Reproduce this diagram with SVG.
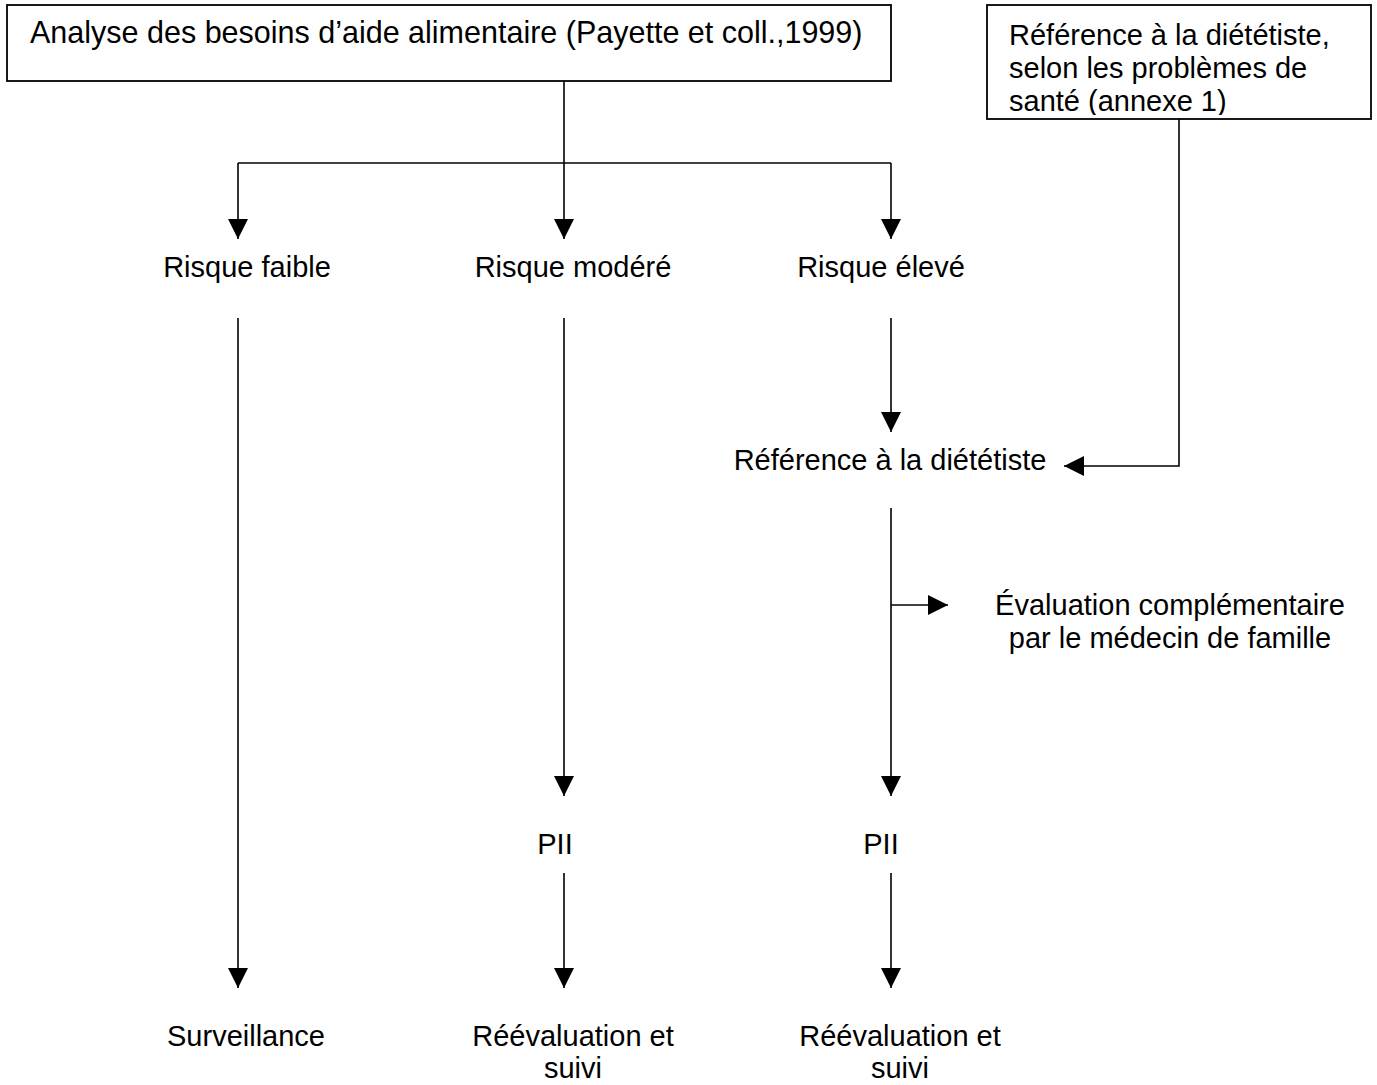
<svg xmlns="http://www.w3.org/2000/svg" width="1377" height="1085" viewBox="0 0 1377 1085">
<style>
text { font-family: "Liberation Sans", Arial, sans-serif; font-size: 29px; fill: #000; }
.c { text-anchor: middle; }
.big { font-size: 30.5px; }
.box { fill: #fff; stroke: #000; stroke-width: 1.8; }
.ln { fill: none; stroke: #000; stroke-width: 1.6; }
</style>
<defs>
<marker id="ah" markerUnits="userSpaceOnUse" markerWidth="20" markerHeight="20" refX="20" refY="10" orient="auto">
<path d="M0,0 L20,10 L0,20 z" fill="#000"/>
</marker>
<clipPath id="clipR"><rect x="987" y="5" width="384" height="110"/></clipPath>
</defs>
<rect width="1377" height="1085" fill="#fff"/>

<g id="connectors">
<path class="ln" d="M564,81 V239" marker-end="url(#ah)"/>
<path class="ln" d="M238,163 H891"/>
<path class="ln" d="M238,163 V239" marker-end="url(#ah)"/>
<path class="ln" d="M891,163 V239" marker-end="url(#ah)"/>
<path class="ln" d="M238,318 V988" marker-end="url(#ah)"/>
<path class="ln" d="M564,318 V796" marker-end="url(#ah)"/>
<path class="ln" d="M891,318 V432" marker-end="url(#ah)"/>
<path class="ln" d="M1179,119 V466 H1064" marker-end="url(#ah)"/>
<path class="ln" d="M891,508 V796" marker-end="url(#ah)"/>
<path class="ln" d="M891,605 H948" marker-end="url(#ah)"/>
<path class="ln" d="M564,873 V988" marker-end="url(#ah)"/>
<path class="ln" d="M891,873 V988" marker-end="url(#ah)"/>
</g>

<g id="analyse">
<rect class="box" x="7" y="5" width="884" height="76"/>
<text class="big" x="30" y="43">Analyse des besoins d’aide alimentaire (Payette et coll.,1999)</text>
</g>

<g id="reference-box">
<rect class="box" x="987" y="5" width="384" height="114"/>
<g clip-path="url(#clipR)">
<text x="1009" y="45">Référence à la diététiste,</text>
<text x="1009" y="78">selon les problèmes de</text>
<text x="1009" y="111">santé (annexe 1)</text>
</g>
</g>

<g id="risque-faible"><text class="c" x="247" y="277">Risque faible</text></g>
<g id="risque-modere"><text class="c" x="573" y="277">Risque modéré</text></g>
<g id="risque-eleve"><text class="c" x="881" y="277">Risque élevé</text></g>
<g id="reference-dietetiste"><text class="c" x="890" y="470">Référence à la diététiste</text></g>
<g id="evaluation">
<text class="c" x="1170" y="615">Évaluation complémentaire</text>
<text class="c" x="1170" y="648">par le médecin de famille</text>
</g>
<g id="pii-1"><text class="c" x="555" y="854">PII</text></g>
<g id="pii-2"><text class="c" x="881" y="854">PII</text></g>
<g id="surveillance"><text class="c" x="246" y="1046">Surveillance</text></g>
<g id="reevaluation-1">
<text class="c" x="573" y="1046">Réévaluation et</text>
<text class="c" x="573" y="1078">suivi</text>
</g>
<g id="reevaluation-2">
<text class="c" x="900" y="1046">Réévaluation et</text>
<text class="c" x="900" y="1078">suivi</text>
</g>
</svg>
